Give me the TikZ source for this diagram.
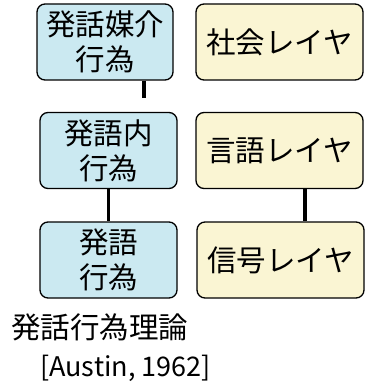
\documentclass[tikz,border=0pt]{standalone}
\usepackage{fontspec}
\setmainfont{Noto Sans CJK JP}
\definecolor{actblue}{HTML}{CBE9F1}
\definecolor{layeryellow}{HTML}{FAF5D3}
\begin{document}
\begin{tikzpicture}[x=1pt,y=-1pt,
  actbox/.style={draw=black,line width=1.3pt,rounded corners=8pt,fill=actblue,
    align=center,inner sep=0pt,minimum width=137pt,minimum height=76pt,
    font=\fontsize{29.5}{35}\selectfont},
  layerbox/.style={draw=black,line width=1.3pt,rounded corners=8pt,fill=layeryellow,
    align=center,inner sep=0pt,minimum width=167pt,minimum height=76pt,
    font=\fontsize{29.5}{35}\selectfont},
  link/.style={line width=3.6pt},
  caption/.style={inner sep=0pt,font=\fontsize{29.5}{35}\selectfont}]
\useasboundingbox (0,0) rectangle (373,390);
\node[actbox,minimum width=136pt] (m1) at (105,42) {発話媒介\\行為};
\node[actbox] (m2) at (108.5,150.5) {発語内\\行為};
\node[actbox] (m3) at (108.5,260) {発語\\行為};
\node[layerbox] (l1) at (279.5,42) {社会レイヤ};
\node[layerbox] (l2) at (279.5,150.5) {言語レイヤ};
\node[layerbox] (l3) at (280.5,260) {信号レイヤ};
\coordinate (stubend) at (144,98);
\coordinate (rc) at (305,0);
\draw[link] (stubend |- m1.south) -- (stubend);
\draw[link] (m2.south) -- (m3.north);
\draw[link] (rc |- l2.south) -- (rc |- l3.north);
\node[caption,anchor=west] (t1) at (11,327) {発話行為理論};
\node[caption,anchor=west,font=\fontsize{27}{35}\selectfont] (t2) at (40,368) {[Austin, 1962]};
\end{tikzpicture}
\end{document}
